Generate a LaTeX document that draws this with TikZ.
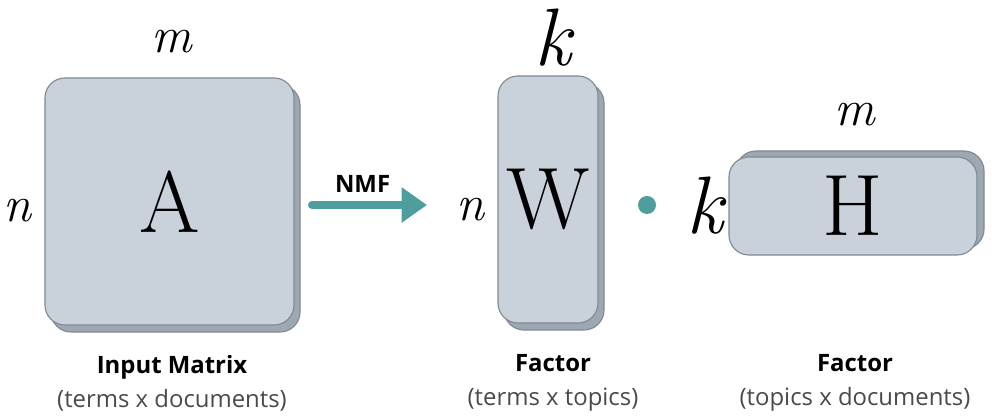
\documentclass[tikz,border=0pt]{standalone}
\usepackage{fontspec}
\setsansfont{Open Sans}
\usetikzlibrary{arrows.meta,positioning,shadows}
\definecolor{matfill}{HTML}{C9D1DB}
\definecolor{matshade}{HTML}{9DA8B3}
\definecolor{matline}{HTML}{7F8A96}
\definecolor{nmfteal}{HTML}{4F9E9E}
\definecolor{subgray}{HTML}{4A4A4A}
\tikzset{
  matbox/.style={draw=matline,fill=matfill,line width=0.8pt,rounded corners=0.5cm,inner sep=0pt,
    font=\fontsize{62}{62}\selectfont},
  shadedown/.style={general shadow={fill=matshade,draw=matline,line width=0.8pt,shadow xshift=0.15cm,shadow yshift=-0.175cm}},
  shadeup/.style={general shadow={fill=matshade,draw=matline,line width=0.8pt,shadow xshift=0.175cm,shadow yshift=0.15cm}},
  dimlbl/.style={inner sep=0pt,font=\fontsize{36}{36}\selectfont\itshape},
  dimlblk/.style={inner sep=0pt,font=\fontsize{58}{58}\selectfont\itshape},
  caption/.style={align=center,font=\sffamily\fontsize{17}{24}\selectfont},
  nmfarrow/.style={draw=nmfteal,line width=5.7pt,line cap=round,-{Triangle[width=24pt,length=18pt]}},
  dotmark/.style={circle,fill=nmfteal,minimum size=0.45cm,inner sep=0pt}
}
\begin{document}
\begin{tikzpicture}[x=0.025cm,y=-0.025cm]
  \useasboundingbox (0,0) rectangle (992,418);
  % matrices
  \node[matbox,shadedown,minimum width=6.225cm,minimum height=6.175cm] (A) at (169.5,201.5) {A};
  \node[matbox,shadedown,minimum width=2.5cm,minimum height=6.175cm] (W) at (548,199.5) {W};
  \node[matbox,shadeup,minimum width=6.2cm,minimum height=2.45cm] (H) at (853,206) {H};
  % dimensions
  \node[dimlbl] (mA) at (172,42) {m};
  \node[dimlbl] (nA) at (17,211) {n};
  \node[dimlblk] (kW) at (553,38) {k};
  \node[dimlbl] (nW) at (470,210) {n};
  \node[dimlbl] (mH) at (855,115) {m};
  \node[dimlblk] (kH) at (705,206) {k};
  % NMF step
  \coordinate (nmfL) at (312,205);
  \coordinate (nmfR) at (427,205);
  \draw[nmfarrow] (nmfL) -- node[pos=0.44,above=3pt,font=\sffamily\bfseries\fontsize{17}{17}\selectfont] (nmf) {NMF} (nmfR);
  \node[dotmark] (dot) at (647,205) {};
  % captions
  \node[caption] (capA) at (172,383) {\textbf{Input Matrix}\\\textcolor{subgray}{(terms x documents)}};
  \node[caption] (capW) at (553,383) {\textbf{Factor}\\\textcolor{subgray}{(terms x topics)}};
  \node[caption] (capH) at (855,383) {\textbf{Factor}\\\textcolor{subgray}{(topics x documents)}};
\end{tikzpicture}
\end{document}
